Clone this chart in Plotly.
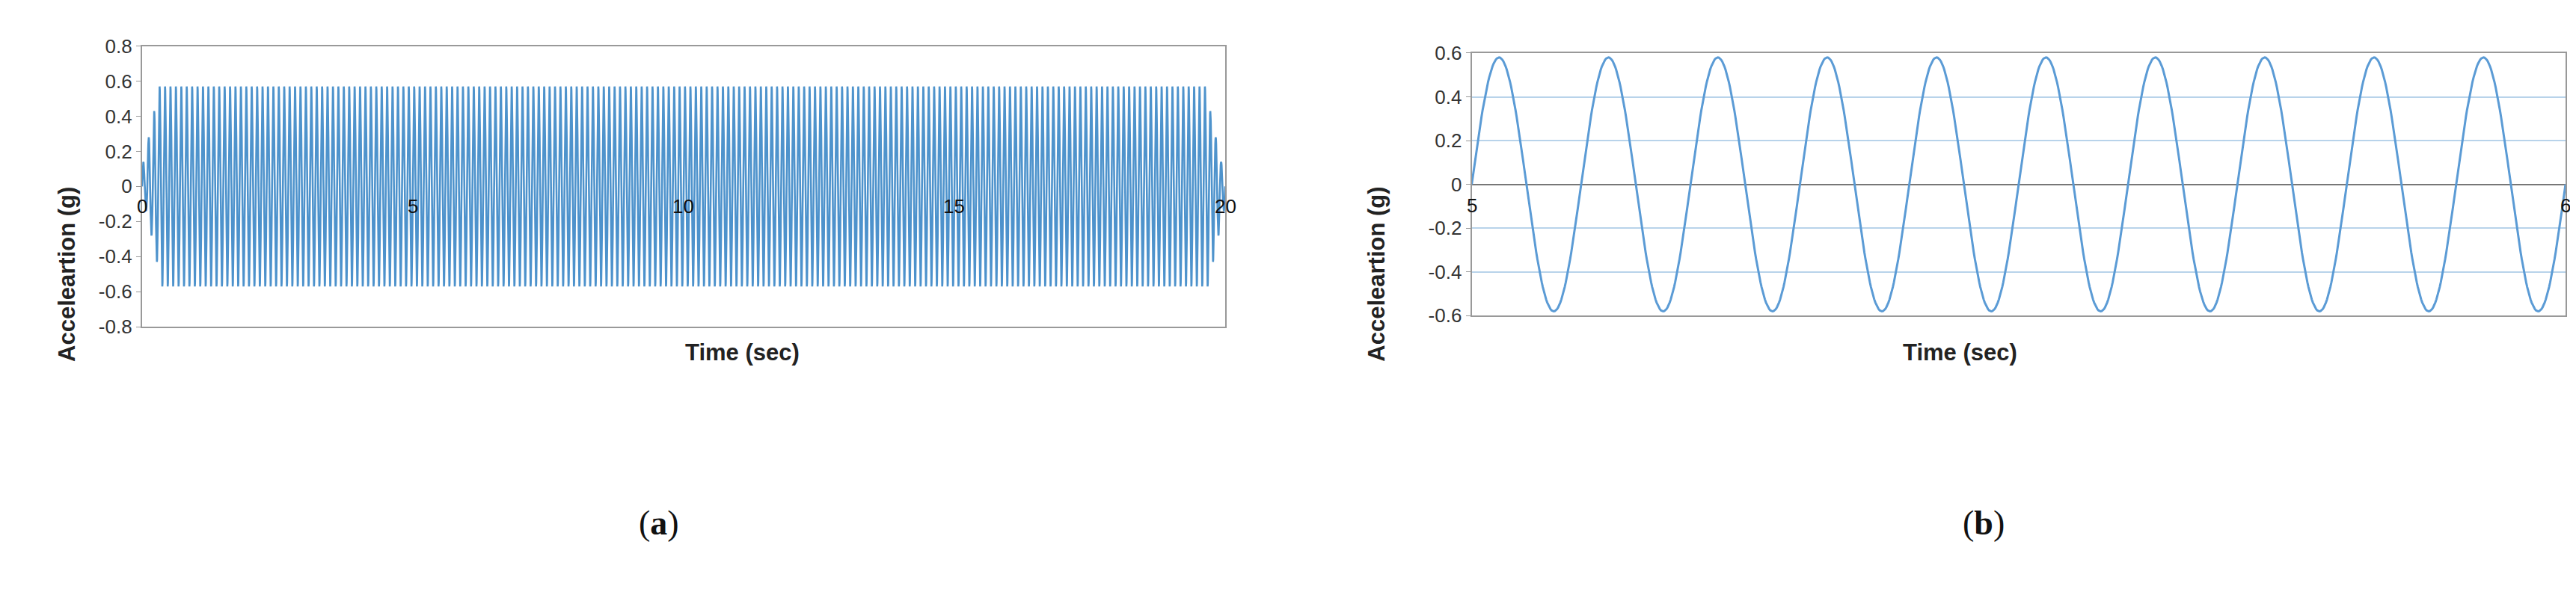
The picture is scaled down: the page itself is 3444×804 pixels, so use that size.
import numpy as np
import plotly.graph_objects as go

# Signal parameters
freq_hz = 10.0
env_t = [0.0, 0.1, 0.2, 0.3, 0.4, 19.6, 19.7, 19.8, 19.9, 20.0]
env_a = [0.14, 0.28, 0.43, 0.57, 0.57, 0.57, 0.57, 0.43, 0.28, 0.14]
amp_b = 0.58
t_a_range = [0, 20]
t_b_range = [5, 6]
xticks_a = [0, 5, 10, 15, 20]
xticks_b = [5, 6]
yticks_a = [-0.8, -0.6, -0.4, -0.2, 0, 0.2, 0.4, 0.6, 0.8]
yticks_b = [-0.6, -0.4, -0.2, 0, 0.2, 0.4, 0.6]

ta = np.linspace(0, 20, 20 * 10 * 24 + 1)
env = np.interp(ta, env_t, env_a)
env = np.where(ta < 0.4, np.array(env_a)[np.clip((ta / 0.1).astype(int), 0, 3)], env)
env = np.where(ta > 19.6, np.array(env_a)[np.clip(((ta - 19.6) / 0.1).astype(int) + 6, 6, 9)], env)
ya = env * np.sin(2 * np.pi * freq_hz * ta)

tb = np.linspace(5, 6, 1001)
yb = amp_b * np.sin(2 * np.pi * freq_hz * (tb - 5))

fig = go.Figure()
fig.add_trace(go.Scatter(x=ta, y=ya, mode="lines", line=dict(color="#2f80c4", width=2.6),
                         opacity=0.85, xaxis="x", yaxis="y", showlegend=False))
fig.add_trace(go.Scatter(x=tb, y=yb, mode="lines", line=dict(color="#5b9bd5", width=3),
                         xaxis="x2", yaxis="y2", showlegend=False))

tickfont = dict(family="Liberation Sans, Arial", size=26, color="#333")
titlefont = dict(family="Liberation Sans, Arial", size=31, color="#222")
fig.update_layout(
    width=3444, height=804, margin=dict(l=0, r=0, t=0, b=0),
    paper_bgcolor="white", plot_bgcolor="white",
    xaxis=dict(domain=[0.0528, 0.4733], range=t_a_range, showticklabels=False, showgrid=False,
               zeroline=False, showline=True, linecolor="#999", linewidth=2, mirror=True),
    yaxis=dict(domain=[0.465, 0.950], range=[-0.8, 0.8], tickvals=yticks_a,
               ticktext=[f"{v:g}" for v in yticks_a], tickfont=tickfont, showgrid=False,
               zeroline=False, showline=True, linecolor="#999", linewidth=2, mirror=True,
               ticks="outside", ticklen=6, tickcolor="#999"),
    xaxis2=dict(domain=[0.569, 0.9936], range=t_b_range, showticklabels=False, showgrid=False,
                zeroline=False, showline=True, linecolor="#999", linewidth=2, mirror=True, anchor="y2"),
    yaxis2=dict(domain=[0.484, 0.938], range=[-0.6, 0.6], tickvals=yticks_b,
                ticktext=[f"{v:g}" for v in yticks_b], tickfont=tickfont, showgrid=True,
                gridcolor="#b8d3ea", gridwidth=1.5, zeroline=True, zerolinecolor="#777",
                zerolinewidth=2, showline=True, linecolor="#999", linewidth=2, mirror=True,
                anchor="x2", ticks="outside", ticklen=6, tickcolor="#999"),
)

ann = []
for v in xticks_a:
    ann.append(dict(x=v, y=-0.04, xref="x", yref="y", text=str(v), showarrow=False,
                    xanchor="center", yanchor="top", font=dict(tickfont, color="#111")))
for v in xticks_b:
    ann.append(dict(x=v, y=-0.04, xref="x2", yref="y2", text=str(v), showarrow=False,
                    xanchor="center", yanchor="top", font=dict(tickfont, color="#111")))
for x0 in [0.018, 0.532]:
    ann.append(dict(x=x0, y=0.71, xref="paper", yref="paper", text="<b>Acceleartion (g)</b>",
                    textangle=-90, showarrow=False, font=titlefont))
for xc in [(0.0528 + 0.4733) / 2, (0.569 + 0.9936) / 2]:
    ann.append(dict(x=xc, y=1 - 466 / 804, xref="paper", yref="paper", text="<b>Time (sec)</b>",
                    showarrow=False, font=titlefont))
for xc, lab in [(0.245, "a"), (0.7765, "b")]:
    ann.append(dict(x=xc, y=1 - 731 / 804, xref="paper", yref="paper", text=f"(<b>{lab}</b>)",
                    showarrow=False, font=dict(family="Liberation Serif, Times New Roman", size=46, color="#111")))
fig.update_layout(annotations=ann)

fig.write_html("out.html")
